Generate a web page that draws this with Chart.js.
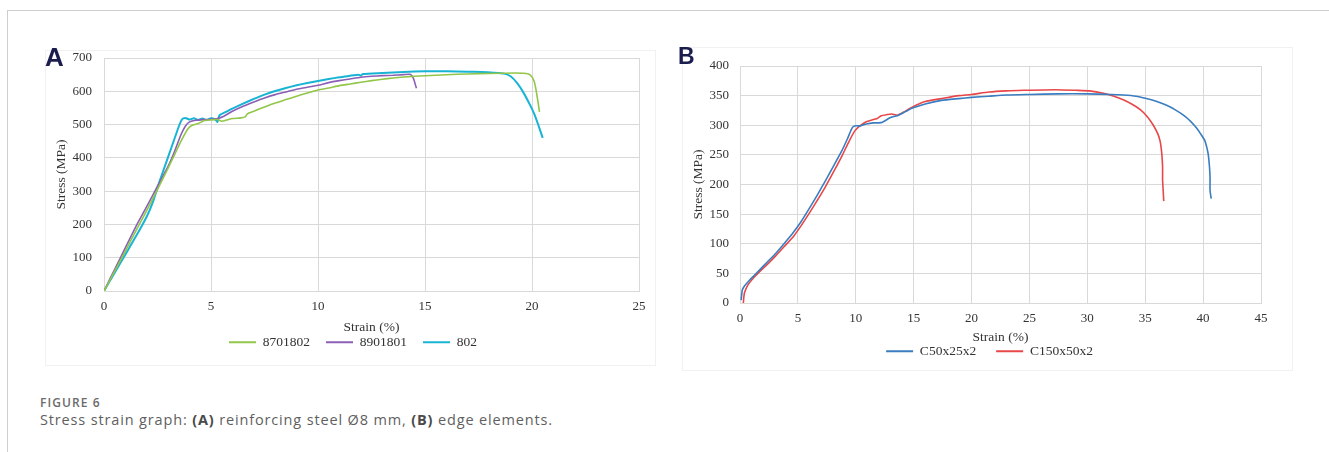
<!DOCTYPE html>
<html>
<head>
<meta charset="utf-8">
<script src="https://cdn.jsdelivr.net/npm/chart.js@4.4.1/dist/chart.umd.min.js"></script>
<style>
  html, body { margin: 0; padding: 0; background: #fff; }
  body { width: 1329px; height: 452px; position: relative; overflow: hidden; }
  .frame { position: absolute; left: 7px; top: 10px; width: 1340px; height: 460px;
           border-left: 1px solid #cfcfcf; border-top: 1px solid #cfcfcf; }
  .panel { position: absolute; border: 1px solid #f1f1f1; box-sizing: border-box; }
  canvas { position: absolute; }
  .tag { position: absolute; font-family: 'Liberation Sans', Arial, sans-serif; font-weight: bold;
         color: #1b1d4d; line-height: 1; }
  .cap1 { position: absolute; left: 40px; top: 397px; font-family: 'Open Sans', sans-serif;
          font-size: 12px; font-weight: 600; color: #6b6b6b; line-height: 1; letter-spacing: 1.1px; }
  .cap2 { position: absolute; left: 40px; top: 413px; font-family: 'Open Sans', sans-serif;
          font-size: 14.5px; color: #5f5f5f; line-height: 1; white-space: nowrap; letter-spacing: 0.85px; }
  .cap2 b { font-weight: 700; color: #4a4a4a; }
</style>
</head>
<body>
<div class="frame"></div>
<div class="panel" style="left:45px; top:50px; width:611px; height:316px;"></div>
<div class="panel" style="left:682px; top:47px; width:611px; height:324px;"></div>
<canvas id="chartA" width="610" height="322" style="left:45px; top:37px;"></canvas>
<canvas id="chartB" width="610" height="321" style="left:682px; top:47px;"></canvas>
<div class="tag" style="left:45px; top:44px; font-size:26px;">A</div>
<div class="tag" style="left:678px; top:45px; font-size:23px;">B</div>
<div class="cap1">FIGURE 6</div>
<div class="cap2">Stress strain graph: <b>(A)</b> reinforcing steel Ø8 mm, <b>(B)</b> edge elements.</div>

<script>
// Graduations des axes
const xTicksA = [0, 5, 10, 15, 20, 25];
const yTicksA = [0, 100, 200, 300, 400, 500, 600, 700];
const xTicksB = [0, 5, 10, 15, 20, 25, 30, 35, 40, 45];
const yTicksB = [0, 50, 100, 150, 200, 250, 300, 350, 400];

// Figure A : acier d'armature (déformation %, contrainte MPa)
const strain8701802 = [0, 0.5, 1.0, 1.5, 2.0, 2.5, 3.0, 3.3, 3.6, 3.9, 4.1, 4.4, 4.7, 5.0, 5.3, 5.5, 5.7, 6.0, 6.4, 6.6, 6.7, 7.0, 7.5, 8.0, 8.5, 9.0, 9.5, 10.0, 10.5, 11.0, 11.5, 12.0, 12.5, 13.0, 13.5, 14.0, 14.5, 15.5, 16.5, 17.5, 18.5, 19.2, 19.6, 19.9, 20.1, 20.2, 20.3, 20.35];
const stress8701802 = [0, 60, 120, 182, 242, 305, 370, 410, 450, 485, 497, 503, 512, 514, 515, 510, 513, 518, 520, 523, 532, 540, 553, 565, 575, 585, 595, 604, 610, 617, 622, 627, 632, 636, 640, 643, 645, 648, 651, 653, 654, 655, 654, 650, 630, 600, 560, 538];

const strain8901801 = [0, 0.5, 1.0, 1.5, 2.0, 2.5, 3.0, 3.3, 3.6, 3.8, 4.0, 4.3, 4.7, 5.0, 5.3, 5.6, 6.0, 6.5, 7.0, 7.5, 8.0, 8.5, 9.0, 9.5, 10.0, 10.5, 11.0, 11.5, 12.0, 12.5, 13.0, 13.5, 14.0, 14.3, 14.45, 14.55, 14.6];
const stress8901801 = [0, 65, 130, 195, 254, 315, 375, 420, 470, 495, 508, 513, 515, 516, 518, 525, 540, 555, 568, 580, 590, 598, 606, 612, 618, 626, 632, 637, 642, 645, 647, 648, 650, 651, 640, 620, 609];

const strain802 = [0, 0.5, 1.0, 1.5, 2.0, 2.3, 2.6, 2.9, 3.2, 3.5, 3.65, 3.8, 4.0, 4.2, 4.4, 4.6, 4.8, 5.0, 5.2, 5.3, 5.4, 5.7, 6.0, 6.5, 7.0, 7.5, 8.0, 8.5, 9.0, 9.5, 10.0, 10.5, 11.0, 11.5, 11.9, 12.0, 12.1, 13.0, 14.0, 15.0, 16.0, 17.0, 17.6, 18.2, 18.7, 19.0, 19.3, 19.6, 19.9, 20.1, 20.3, 20.5];
const stress802 = [0, 55, 110, 165, 224, 270, 330, 385, 440, 495, 516, 520, 515, 519, 514, 518, 513, 519, 515, 508, 528, 538, 548, 563, 577, 590, 601, 610, 618, 625, 631, 637, 642, 647, 650, 647, 652, 655, 658, 660, 660, 659, 658, 656, 653, 645, 625, 596, 560, 533, 498, 460];

// Figure B : éléments de rive
const strainC50 = [0.1, 0.2, 0.4, 0.8, 1.2, 1.7, 2.4, 3.1, 3.8, 4.6, 5.3, 6.0, 6.7, 7.4, 8.1, 8.8, 9.3, 9.7, 10.0, 10.4, 10.9, 11.5, 12.0, 12.3, 13.0, 13.7, 14.3, 14.9, 16.0, 17.4, 18.9, 20.0, 21.5, 23.0, 25.0, 27.5, 30.0, 32.0, 33.1, 34.2, 35.1, 36.0, 36.8, 37.6, 38.3, 38.9, 39.4, 39.8, 40.15, 40.35, 40.45, 40.55, 40.6, 40.6, 40.7];
const stressC50 = [5, 22, 29, 38, 46, 56, 70, 84, 100, 119, 138, 160, 183, 207, 232, 257, 278, 296, 299, 299, 302, 304, 304, 305, 313, 317, 323, 329, 336, 342, 345, 347, 349, 351, 352, 353, 353, 352, 351, 349, 345, 340, 334, 326, 317, 307, 296, 285, 274, 260, 250, 230, 210, 190, 176];

const strainC150 = [0.29, 0.33, 0.4, 0.7, 1.2, 1.7, 2.4, 3.1, 3.8, 4.6, 5.3, 6.0, 6.7, 7.4, 8.1, 8.8, 9.4, 9.9, 10.3, 10.9, 11.4, 11.8, 12.2, 12.7, 13.1, 13.6, 14.2, 14.9, 16.0, 17.4, 18.9, 20.0, 21.5, 23.0, 24.5, 27.3, 29.0, 30.2, 31.4, 32.3, 33.1, 33.9, 34.6, 35.2, 35.7, 36.1, 36.3, 36.4, 36.45, 36.5, 36.5, 36.55, 36.6];
const stressC150 = [0, 10, 18, 31, 43, 53, 66, 80, 95, 112, 131, 152, 174, 197, 222, 248, 272, 290, 298, 306, 309, 311, 316, 318, 319, 317, 323, 331, 340, 345, 350, 352, 356, 358, 359, 360, 359, 358, 354, 349, 343, 335, 326, 314, 300, 285, 272, 258, 247, 230, 208, 190, 172];

const serif = "'Liberation Serif', 'Times New Roman', serif";
const gridColor = '#d9d9d9';
const textColor = '#333333';

// Transformer deux listes en points {x, y}
function toPoints(xs, ys) {
  return xs.map((x, i) => ({ x: x, y: ys[i] }));
}

// Créer une série de courbe
function makeSeries(label, xs, ys, color, width) {
  return {
    label: label,
    data: toPoints(xs, ys),
    borderColor: color,
    backgroundColor: color,
    borderWidth: width,
    pointRadius: 0,
    showLine: true,
    tension: 0.2
  };
}

// Créer un graphique contrainte-déformation
function makeChart(id, datasets, s) {
  const ctx = document.getElementById(id).getContext('2d');
  return new Chart(ctx, {
    type: 'scatter',
    data: { datasets: datasets },
    plugins: [{
      // décaler la légende comme dans la figure d'origine
      id: 'shiftLegend',
      afterLayout: function(chart) {
        chart.legend.left += s.legendShift;
        chart.legend.right += s.legendShift;
      }
    }],
    options: {
      responsive: false,
      animation: false,
      layout: { padding: { left: 0, right: s.padRight, top: s.padTop, bottom: 0 } },
      plugins: {
        tooltip: { enabled: false },
        legend: {
          position: 'bottom',
          labels: {
            boxWidth: 27,
            boxHeight: 2,
            padding: s.legendPad,
            color: textColor,
            font: { family: serif, size: 13.5 },
            generateLabels: function(chart) {
              return Chart.defaults.plugins.legend.labels.generateLabels(chart).map(l => {
                l.lineWidth = 0;
                l.fillStyle = l.strokeStyle;
                return l;
              });
            }
          }
        }
      },
      scales: {
        x: {
          type: 'linear',
          min: s.xTicks[0],
          max: s.xTicks[s.xTicks.length - 1],
          afterBuildTicks: axis => { axis.ticks = s.xTicks.map(v => ({ value: v })); },
          afterFit: axis => { axis.height = s.xHeight; },
          grid: { color: gridColor, drawTicks: false },
          border: { color: gridColor },
          ticks: { padding: 8, color: textColor, font: { family: serif, size: 13 } },
          title: {
            display: true, text: 'Strain (%)', color: textColor,
            font: { family: serif, size: 13.5 },
            padding: { top: 0, bottom: s.xTitlePad }
          }
        },
        y: {
          type: 'linear',
          min: s.yTicks[0],
          max: s.yTicks[s.yTicks.length - 1],
          afterBuildTicks: axis => { axis.ticks = s.yTicks.map(v => ({ value: v })); },
          afterFit: axis => { axis.width = s.yWidth; },
          grid: { color: gridColor, drawTicks: false },
          border: { color: gridColor },
          ticks: { padding: s.yTickPad, color: textColor, font: { family: serif, size: 13 } },
          title: {
            display: true, text: 'Stress (MPa)', color: textColor,
            font: { family: serif, size: 13.5 },
            padding: { top: s.yTitlePad, bottom: 0 }
          }
        }
      }
    }
  });
}

document.addEventListener('DOMContentLoaded', function() {
  makeChart('chartA', [
    makeSeries('8701802', strain8701802, stress8701802, '#92c648', 1.6),
    makeSeries('8901801', strain8901801, stress8901801, '#8a5fb5', 1.6),
    makeSeries('802', strain802, stress802, '#18b4d4', 2)
  ], {
    xTicks: xTicksA, yTicks: yTicksA, padRight: 16, padTop: 21,
    xHeight: 28.5, yWidth: 59, xTitlePad: -16.1, yTitlePad: 8.6, yTickPad: 12,
    legendPad: 16, legendShift: 11
  });

  makeChart('chartB', [
    makeSeries('C50x25x2', strainC50, stressC50, '#3a7dc0', 1.6),
    makeSeries('C150x50x2', strainC150, stressC150, '#e8474a', 1.6)
  ], {
    xTicks: xTicksB, yTicks: yTicksB, padRight: 31, padTop: 19,
    xHeight: 21.5, yWidth: 58, xTitlePad: -20.6, yTitlePad: 8.2, yTickPad: 11,
    legendPad: 20, legendShift: 18
  });
});
</script>
</body>
</html>
